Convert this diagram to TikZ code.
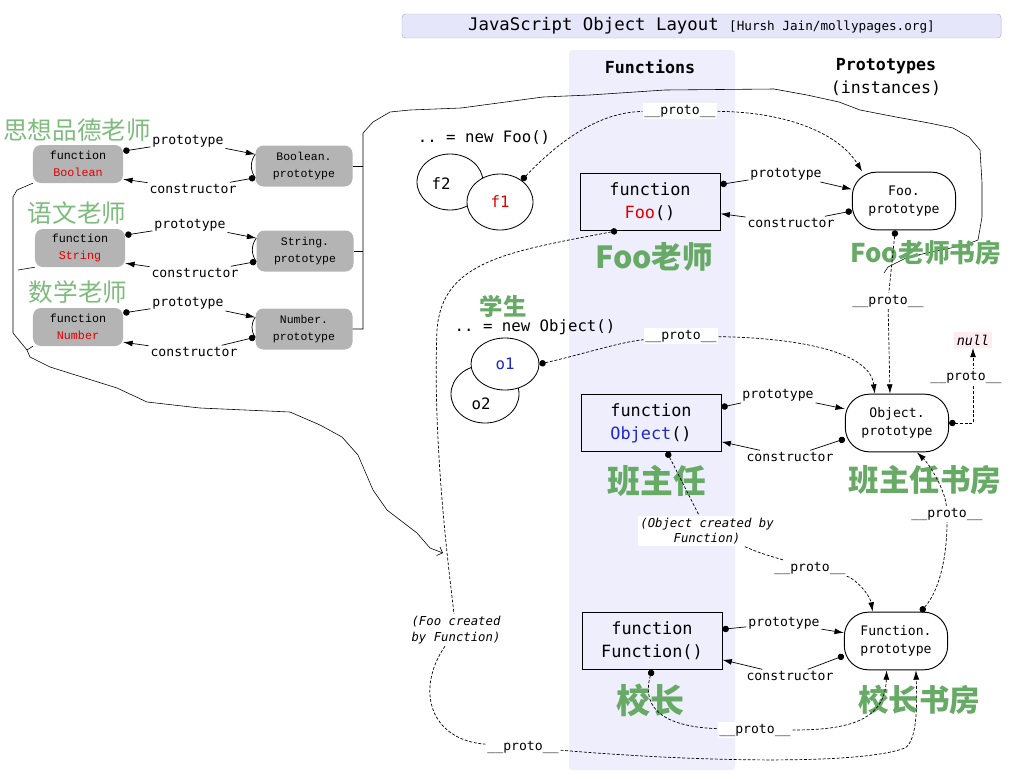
\documentclass[tikz,border=0pt]{standalone}
\usepackage{fontspec}
\setmonofont{DejaVu Sans Mono}
\newfontfamily\cjk{Noto Sans CJK SC}
\newfontfamily\boxfont{Liberation Mono}
\usepackage{xcolor}
\usepackage{tikz}
\usetikzlibrary{arrows.meta,positioning,shapes,calc}

\definecolor{colbg}{RGB}{238,238,252}
\definecolor{titlebg}{RGB}{230,230,250}
\definecolor{titleedge}{RGB}{175,175,200}
\definecolor{boxgray}{RGB}{180,180,180}
\definecolor{tgreen}{RGB}{102,170,102}
\definecolor{lgreen}{RGB}{125,188,125}
\definecolor{jsred}{RGB}{225,0,0}
\definecolor{jsblue}{RGB}{30,40,200}
\definecolor{nullbg}{RGB}{255,236,240}

\tikzset{
  fnbox/.style={draw, line width=0.8pt, minimum width=4.2cm, minimum height=1.7cm, inner sep=0pt, align=center, font=\ttfamily\fontsize{14.4}{19.5}\selectfont},
  protobox/.style={draw, line width=0.8pt, rounded corners=0.72cm, minimum width=3.1cm, minimum height=1.73cm, inner sep=0pt, align=center, font=\ttfamily\fontsize{11.2}{15.3}\selectfont},
  graybox/.style={fill=boxgray, rounded corners=0.24cm, minimum width=2.7cm, minimum height=1.14cm, inner sep=0pt, align=center, font=\boxfont\fontsize{10}{15}\selectfont},
  obj/.style={draw, ellipse, line width=0.7pt, fill=white, inner sep=0pt},
  objtext/.style={font=\ttfamily\fontsize{13.4}{16}\selectfont},
  lab/.style={fill=white, inner sep=1.5pt, font=\ttfamily\fontsize{11.2}{13}\selectfont},
  note/.style={fill=white, inner sep=2pt, align=center, font=\ttfamily\itshape\fontsize{10.5}{13}\selectfont},
  teacher/.style={text=tgreen, font=\cjk\bfseries\fontsize{#1}{#1}\selectfont},
  teacher/.default=26,
  oldname/.style={text=lgreen, font=\cjk\fontsize{21}{24}\selectfont},
  link/.style={line width=0.6pt},
  protoline/.style={line width=0.6pt, dash pattern=on 2.5pt off 1.5pt},
  hasdot/.style={{Circle[length=5.5pt]}-},
  hasarrow/.style={-{Latex[length=8pt,width=5pt]}},
  dotarrow/.style={{Circle[length=5.5pt]}-{Latex[length=8pt,width=5pt]}},
  hand/.style={line width=0.5pt},
}

\begin{document}
\begin{tikzpicture}[x=0.03cm, y=-0.03cm]
\useasboundingbox (0,0) rectangle (1017,778);

% Functions column
\fill[colbg, rounded corners=3pt] (569,50) rectangle (735,770);

% Title bar
\node[draw=titleedge, fill=titlebg, rounded corners=3pt, minimum width=17.97cm, minimum height=0.72cm, inner sep=0pt] (title) at (701.5,26) {\ttfamily\fontsize{14.8}{16}\selectfont JavaScript Object Layout {\fontsize{10.8}{12}\selectfont[Hursh Jain/mollypages.org]}};

% Column heads
\node[font=\ttfamily\bfseries\fontsize{14.2}{19.5}\selectfont] (fnHead) at (650,67) {Functions};
\node[align=center, font=\ttfamily\fontsize{14.2}{19.5}\selectfont] (protoHead) at (886,77) {\textbf{Prototypes}\\(instances)};

% Built-in constructors (left)
\node[oldname] (boolName) at (77,130) {思想品德老师};
\node[graybox] (boolFn) at (78,164) {function\\\textcolor{jsred}{Boolean}};
\node[graybox, minimum width=2.91cm, minimum height=1.23cm, font=\boxfont\fontsize{9.8}{15}\selectfont] (boolProto) at (304,166) {Boolean.\\prototype};
\node[lab] (boolPt) at (188,141) {prototype};
\node[lab] (boolCt) at (193,189) {constructor};
\draw[link, hasdot] ([yshift=11pt]boolFn.east) -- (boolPt);
\draw[link, hasarrow] (boolPt) -- ([yshift=10pt]boolProto.west);
\draw[link, hasdot] ([yshift=-10pt]boolProto.west) -- (boolCt);
\draw[link, hasarrow] (boolCt) -- ([yshift=-13pt]boolFn.east);
\draw[link] ([yshift=10pt]boolProto.west) to[bend right=35] ([yshift=-10pt]boolProto.west);

\node[oldname] (strName) at (77,213) {语文老师};
\node[graybox] (strFn) at (80,248) {function\\\textcolor{jsred}{String}};
\node[graybox, minimum width=2.91cm, minimum height=1.23cm, font=\boxfont\fontsize{9.8}{15}\selectfont] (strProto) at (305,251) {String.\\prototype};
\node[lab] (strPt) at (190,225) {prototype};
\node[lab] (strCt) at (195,273) {constructor};
\draw[link, hasdot] ([yshift=11pt]strFn.east) -- (strPt);
\draw[link, hasarrow] (strPt) -- ([yshift=11pt]strProto.west);
\draw[link, hasdot] ([yshift=-9pt]strProto.west) -- (strCt);
\draw[link, hasarrow] (strCt) -- ([yshift=-13pt]strFn.east);
\draw[link] ([yshift=11pt]strProto.west) to[bend right=35] ([yshift=-9pt]strProto.west);

\node[oldname] (numName) at (78,292) {数学老师};
\node[graybox] (numFn) at (78,327) {function\\\textcolor{jsred}{Number}};
\node[graybox, minimum width=2.91cm, minimum height=1.23cm, font=\boxfont\fontsize{9.8}{15}\selectfont] (numProto) at (304,329) {Number.\\prototype};
\node[lab] (numPt) at (188,303) {prototype};
\node[lab] (numCt) at (194,352) {constructor};
\draw[link, hasdot] ([yshift=12pt]numFn.east) -- (numPt);
\draw[link, hasarrow] (numPt) -- ([yshift=10pt]numProto.west);
\draw[link, hasdot] ([yshift=-7pt]numProto.west) -- (numCt);
\draw[link, hasarrow] (numCt) -- ([yshift=-13pt]numFn.east);
\draw[link] ([yshift=10pt]numProto.west) to[bend right=35] ([yshift=-7pt]numProto.west);

% Hand drawn: built-in prototypes up to Foo.prototype's __proto__
\coordinate (brTop) at (363,133);
\coordinate (handTop) at (884,273);
\draw[hand] (boolProto.east) -- (boolProto.east -| brTop);
\draw[hand] (strProto.east) -- (strProto.east -| brTop);
\draw[hand] (numProto.east) -- (numProto.east -| brTop) -- (brTop) -- (373,122) -- (390,112) -- (410,110) -- (461,108) -- (543,97) -- (590,95) -- (665,90) -- (774,89) -- (807,95) -- (839,102) -- (860,110) -- (896,117) -- (929,123) -- (953,128) -- (969,137) -- (980,150) -- (982,183) -- (982,217) -- (978,240) -- (965,245) -- (908,257) -- (888,267) -- (handTop);

% Hand drawn: built-in constructors down to Foo's __proto__
\coordinate (handEnd) at (443,553);
\draw[hand] (strFn.south west) -- (18,270);
\draw[hand] (numFn.south west) -- (27,350);
\draw[hand, -{Straight Barb[length=4pt]}] (boolFn.south west) -- (17,190) -- (13,197) -- (13,333) -- (27,350) -- (30,357) -- (50,367) -- (117,388) -- (147,402) -- (200,408) -- (290,412) -- (320,425) -- (342,437) -- (358,455) -- (373,490) -- (387,510) -- (417,533) -- (430,548) -- (handEnd);

% Foo row
\node[objtext] (newFoo) at (484,138) {.. = new Foo()};
\node[obj, minimum width=1.98cm, minimum height=1.68cm] (f2) at (450,182) {};
\node[objtext] (f2t) at (441,184) {f2};
\node[obj, minimum width=1.98cm, minimum height=1.68cm, objtext, text=jsred] (f1) at (500,202) {f1};
\node[fnbox] (fooFn) at (650,202) {function\\\textcolor{jsred}{Foo}()};
\node[protobox] (fooProto) at (904,201) {Foo.\\prototype};
\node[lab] (fooPt) at (786,174) {prototype};
\node[lab] (fooCt) at (791,223) {constructor};
\draw[link, hasdot] ([yshift=15pt]fooFn.east) -- (fooPt);
\draw[link, hasarrow] (fooPt) -- ([yshift=10pt]fooProto.west);
\draw[link, hasdot] ([yshift=-8.5pt]fooProto.west) -- (fooCt);
\draw[link, hasarrow] (fooCt) -- ([yshift=-10pt]fooFn.east);
\node[teacher] (fooT) at (654,257) {Foo老师};
\node[teacher=22] (fooRoom) at (926,253) {Foo老师书房};

% Object row
\node[teacher=20] (stu) at (503,306) {学生};
\node[objtext] (newObj) at (535,327) {.. = new Object()};
\node[obj, minimum width=2.04cm, minimum height=1.74cm] (o2) at (485,394) {};
\node[objtext] (o2t) at (481,404) {o2};
\node[obj, minimum width=2.04cm, minimum height=1.56cm, objtext, text=jsblue] (o1) at (505,364) {o1};
\node[fnbox] (objFn) at (651,423) {function\\\textcolor{jsblue}{Object}()};
\node[protobox] (objProto) at (897,423) {Object.\\prototype};
\node[lab] (objPt) at (778,395) {prototype};
\node[lab] (objCt) at (790,457) {constructor};
\draw[link, hasdot] ([yshift=13.5pt]objFn.east) -- (objPt);
\draw[link, hasarrow] (objPt) -- ([yshift=12pt]objProto.west);
\draw[link, hasdot] ([yshift=-13.5pt]objProto.west) -- (objCt);
\draw[link, hasarrow] (objCt) -- ([yshift=-16pt]objFn.east);
\node[teacher=28] (objT) at (657,481) {班主任};
\node[teacher] (objRoom) at (925,480) {班主任书房};

% Function row
\node[fnbox] (funFn) at (652,641) {function\\Function()};
\node[protobox] (funProto) at (896,641) {Function.\\prototype};
\node[lab] (funPt) at (784,623) {prototype};
\node[lab] (funCt) at (790,676) {constructor};
\draw[link, hasdot] ([yshift=10pt]funFn.east) -- (funPt);
\draw[link, hasarrow] (funPt) -- ([yshift=7pt]funProto.west);
\draw[link, hasdot] ([yshift=-12.5pt]funProto.west) -- (funCt);
\draw[link, hasarrow] (funCt) -- ([yshift=-16pt]funFn.east);
\node[teacher=29] (funT) at (650,700) {校长};
\node[teacher] (funRoom) at (919,700) {校长书房};

% __proto__ links
\node[lab] (pFoo) at (680,111) {\_\_proto\_\_};
\draw[protoline, hasdot] (f1.45) .. controls (560,140) and (600,112) .. (pFoo);
\draw[protoline, hasarrow] (pFoo) .. controls (790,112) and (840,135) .. (fooProto.145);

\node[lab] (pFooP) at (888,301) {\_\_proto\_\_};
\draw[protoline, hasdot] ([xshift=-7.5pt]fooProto.south) -- (pFooP);
\draw[protoline, hasarrow] (pFooP) -- ([xshift=-6pt]objProto.north);

\node[lab] (pO1) at (681,336) {\_\_proto\_\_};
\draw[protoline, hasdot] (o1.east) .. controls (580,355) and (620,342) .. (pO1);
\draw[protoline, hasarrow] (pO1) .. controls (800,338) and (870,352) .. ([xshift=-19pt]objProto.north);

\node[fill=nullbg, inner sep=2pt, font=\ttfamily\itshape\fontsize{11.5}{13}\selectfont] (nullN) at (973,340) {null};
\draw[protoline, dotarrow] (objProto.east) -| (nullN);
\node[lab] (pNull) at (966,377) {\_\_proto\_\_};

\node[note] (ocb) at (707,531) {(Object created by\\Function)};
\node[lab] (pObjFn) at (810,568) {\_\_proto\_\_};
\draw[protoline, hasdot] ([xshift=13.5pt]objFn.south) -- (ocb);
\draw[protoline] (ocb) .. controls (760,553) .. (pObjFn);
\draw[protoline, hasarrow] (pObjFn) .. controls (855,578) and (870,595) .. ([xshift=-20pt]funProto.north);

\node[lab] (pFunP) at (947,514) {\_\_proto\_\_};
\draw[protoline, hasdot] ([xshift=21pt]funProto.north) .. controls (940,590) and (947,555) .. (pFunP);
\draw[protoline, hasarrow] (pFunP) .. controls (945,490) and (930,465) .. ([xshift=17pt]objProto.south);

\node[lab] (pFun) at (755,730) {\_\_proto\_\_};
\draw[protoline, hasdot] (funFn.south) .. controls (640,712) and (670,727) .. (pFun);
\draw[protoline, hasarrow] (pFun) .. controls (850,730) and (885,720) .. ([xshift=-8pt]funProto.south);

\node[note] (fcb) at (456,630) {(Foo created\\by Function)};
\node[lab] (pFoo2) at (523,747) {\_\_proto\_\_};
\draw[protoline, hasdot] ([xshift=-28pt]fooFn.south) .. controls (505,252) and (442,262) .. (437,330) .. controls (433,430) and (445,540) .. (fcb);
\draw[protoline] (fcb) .. controls (415,690) and (430,740) .. (pFoo2);
\draw[protoline, hasarrow] (pFoo2) .. controls (700,762) and (860,765) .. (905,748) .. controls (918,740) and (917,700) .. ([xshift=17pt]funProto.south);

\end{tikzpicture}
\end{document}
